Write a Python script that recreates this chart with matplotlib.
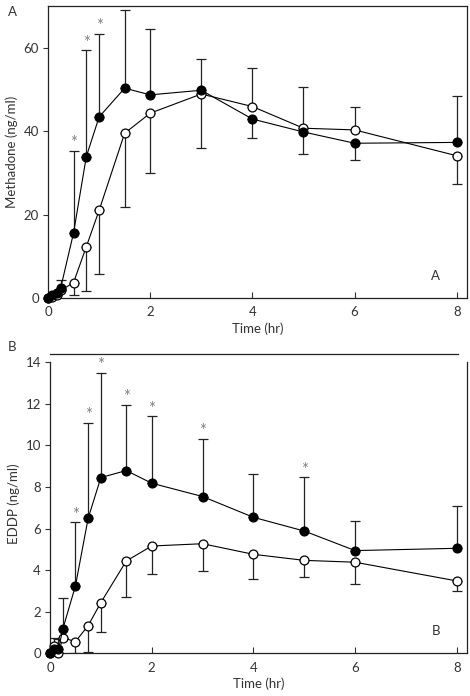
import matplotlib
matplotlib.use("Agg")
import matplotlib.pyplot as plt
import numpy as np

plt.rcParams['font.family'] = ['Lato', 'DejaVu Sans']

# ---------------- data ----------------
time_hr = [0, 0.083, 0.167, 0.25, 0.5, 0.75, 1, 1.5, 2, 3, 4, 5, 6, 8]

# Panel A: methadone (ng/ml)
a_filled = [0, 0.8, 1.2, 2.5, 15.6, 33.9, 43.4, 50.3, 48.7, 49.8, 42.9, 39.8, 37.1, 37.3]
a_filled_hi = [0, 0, 0, 1.7, 19.7, 25.5, 19.9, 18.7, 15.8, 7.6, 0, 0, 0, 11.2]
a_filled_lo = [0, 0, 0, 0, 0, 0, 0, 0, 0, 0, 4.6, 5.2, 4.0, 0]
a_open = [0, 0.3, 0.7, 1.8, 3.7, 12.3, 21.0, 39.5, 44.3, 48.9, 45.9, 40.7, 40.3, 34.1]
a_open_hi = [0, 0, 0, 0, 0, 0, 0, 0, 0, 0, 9.2, 10.0, 5.6, 0]
a_open_lo = [0, 0, 0, 0, 2.9, 10.6, 15.3, 17.6, 14.4, 12.9, 0, 0, 0, 6.7]
a_sig_times = [0.5, 0.75, 1]

# Panel B: EDDP (ng/ml)
b_filled = [0, 0.2, 0.2, 1.15, 3.24, 6.49, 8.45, 8.79, 8.18, 7.54, 6.54, 5.88, 4.94, 5.05]
b_filled_hi = [0, 0, 0.5, 1.5, 3.06, 4.61, 5.05, 3.15, 3.22, 2.76, 2.09, 2.59, 1.43, 2.04]
b_filled_lo = [0] * 14
b_open = [0, 0.35, 0.0, 0.75, 0.56, 1.33, 2.44, 4.44, 5.16, 5.27, 4.76, 4.47, 4.38, 3.48]
b_open_hi = [0, 0.4, 0, 0, 0, 0, 0, 0, 0, 0, 0, 0, 0, 0]
b_open_lo = [0, 0, 0, 0, 0.53, 1.28, 1.40, 1.75, 1.34, 1.31, 1.17, 0.81, 1.05, 0.47]
b_sig_times = [0.5, 0.75, 1, 1.5, 2, 3, 5]

x_ticks = [0, 2, 4, 6, 8]
a_yticks = [0, 20, 40, 60]
b_yticks = [0, 2, 4, 6, 8, 10, 12, 14]

# ---------------- figure ----------------
fig = plt.figure(figsize=(4.70, 6.96), dpi=100)
TXT = '#333333'

axA = fig.add_axes([48/470, 1-298/696, (467-48)/470, (298-6)/696])
axB = fig.add_axes([50/470, 1-653.3/696, (467-50)/470, (653.3-354.3)/696])


def draw(ax, y_f, f_lo, f_hi, y_o, o_lo, o_hi, sig):
    t = np.array(time_hr)
    ax.errorbar(t, y_f, yerr=[f_lo, f_hi], fmt='none', ecolor='#222222',
                elinewidth=0.9, capsize=3.5, capthick=0.9, zorder=2)
    ax.errorbar(t, y_o, yerr=[o_lo, o_hi], fmt='none', ecolor='#222222',
                elinewidth=0.9, capsize=3.5, capthick=0.9, zorder=2)
    ax.plot(t, y_o, '-o', color='black', lw=0.8, ms=6.4, mfc='white',
            mec='black', mew=0.9, zorder=3, clip_on=False)
    ax.plot(t, y_f, '-o', color='black', lw=0.8, ms=6.4, mfc='black',
            mec='black', mew=0.9, zorder=4, clip_on=False)
    yf = np.array(y_f)
    fh = np.array(f_hi)
    for s in sig:
        i = time_hr.index(s)
        ax.annotate('*', xy=(s, yf[i] + fh[i]), xytext=(0, 5.5), textcoords='offset points',
                    ha='center', va='center', fontsize=12, color='#808080')
    ax.set_xlim(0, 8.2)
    ax.set_xticks(x_ticks)
    ax.set_xticklabels([str(v) for v in x_ticks])
    ax.tick_params(axis='x', direction='in', length=4, width=0.8, pad=6,
                   labelsize=9.5, colors='#333333')
    ax.tick_params(axis='y', direction='out', length=3.5, width=0.8, pad=3,
                   labelsize=9.5, colors='#333333')
    ax.set_xlabel('Time (hr)', fontsize=9.5, color=TXT, labelpad=3)
    for sp in ax.spines.values():
        sp.set_linewidth(0.9)
        sp.set_color('#222222')


draw(axA, a_filled, a_filled_lo, a_filled_hi, a_open, a_open_lo, a_open_hi, a_sig_times)
axA.set_ylim(0, 70)
axA.set_yticks(a_yticks)
axA.set_ylabel('Methadone (ng/ml)', fontsize=9.5, color=TXT, labelpad=4)
axA.text(0.925, 0.075, 'A', transform=axA.transAxes, fontsize=9.5, color=TXT,
         ha='center', va='center')

draw(axB, b_filled, b_filled_lo, b_filled_hi, b_open, b_open_lo, b_open_hi, b_sig_times)
axB.set_ylim(0, 14.38)
axB.set_yticks(b_yticks)
axB.set_ylabel('EDDP (ng/ml)', fontsize=9.5, color=TXT, labelpad=4)
axB.spines['left'].set_bounds(0, 14)
axB.spines['right'].set_bounds(0, 14)
axB.spines['top'].set_bounds(0, 8.02)
axB.text(0.925, 0.075, 'B', transform=axB.transAxes, fontsize=9.5, color=TXT,
         ha='center', va='center')

fig.text(12/470, 1-12/696, 'A', fontsize=9.5, color=TXT, ha='center', va='center')
fig.text(12/470, 1-347/696, 'B', fontsize=9.5, color=TXT, ha='center', va='center')

fig.savefig('out.png', dpi=100)
